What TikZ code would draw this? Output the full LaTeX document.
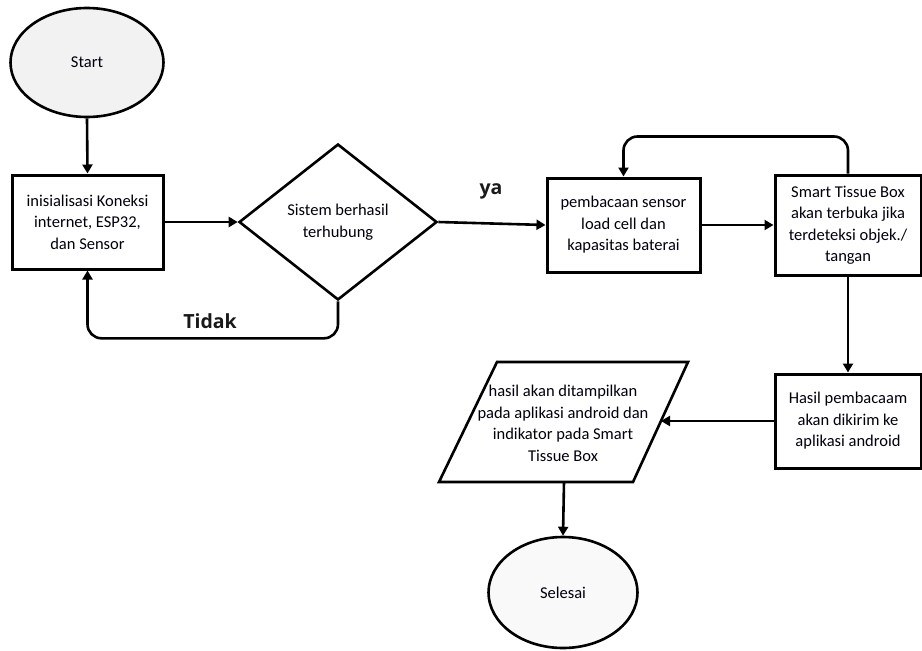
\documentclass[tikz,border=0pt]{standalone}
\usepackage{fontspec}
\setmainfont{Carlito}
\newfontfamily\labelfont{Open Sans}
\usetikzlibrary{arrows.meta,shapes.geometric}
\begin{document}
\begin{tikzpicture}[x=1pt,y=-1pt,
 every node/.style={font=\fontsize{16.5}{21.5}\selectfont, text=black!95!blue},
 procbox/.style={draw, line width=3pt, rectangle, inner sep=0pt, align=center},
 termin/.style={draw, ellipse, line width=2.6pt, fill=gray!10, inner sep=0pt},
 decis/.style={draw, diamond, line width=2.6pt, inner sep=0pt, align=center},
 flow/.style={line width=2.6pt, -{Triangle[length=9pt,width=10pt]}, rounded corners=14pt},
 lbl/.style={font=\labelfont\bfseries\fontsize{19.5}{22}\selectfont, text=black!90}
]
\useasboundingbox (0,0) rectangle (922,651);
\node[termin, minimum width=153pt, minimum height=109pt] (start) at (87,62.5) {Start};
\node[procbox, minimum width=151pt, minimum height=94pt] (init) at (87.5,222) {inisialisasi Koneksi\\internet, ESP32,\\dan Sensor};
\node[decis, minimum width=198pt, minimum height=156pt] (dec) at (338,222) {Sistem berhasil\\terhubung};
\node[procbox, minimum width=153pt, minimum height=94pt] (baca) at (623.5,225) {pembacaan sensor\\load cell dan\\kapasitas baterai};
\node[procbox, minimum width=146pt, minimum height=100pt] (smart) at (848,225) {Smart Tissue Box\\akan terbuka jika\\terdeteksi objek./\\tangan};
\node[procbox, minimum width=146pt, minimum height=94pt] (kirim) at (848,421) {Hasil pembacaam\\akan dikirim ke\\aplikasi android};
\draw[line width=2.6pt, line join=miter] (497,362) -- (688,362) -- (633,482) -- (439,482) -- cycle;
\node[align=center] (tampil) at (563,423.5) {hasil akan ditampilkan\\pada aplikasi android dan\\indikator pada Smart\\Tissue Box};
\coordinate (parR) at (661,421);
\coordinate (parB) at (564,482);
\node[termin, fill=gray!5, minimum width=149pt, minimum height=111pt] (end) at (563,592.5) {Selesai};
\draw[flow] (start.south) -- (init.north);
\draw[flow] (init.east) -- (dec.west);
\draw[flow] (dec.east) -- (baca.west);
\draw[flow] (baca.east) -- (smart.west);
\draw[flow] (smart.north) -- ++(0,-37) -| (baca.north);
\draw[flow] (smart.south) -- (kirim.north);
\draw[flow] (kirim.west) -- (parR);
\draw[flow] (parB) -- (end.north);
\draw[flow] (dec.south) -- ++(0,37) -| (init.south);
\node[lbl] (ya) at (491,191) {ya};
\node[lbl] (tidak) at (210,321) {Tidak};
\end{tikzpicture}
\end{document}
